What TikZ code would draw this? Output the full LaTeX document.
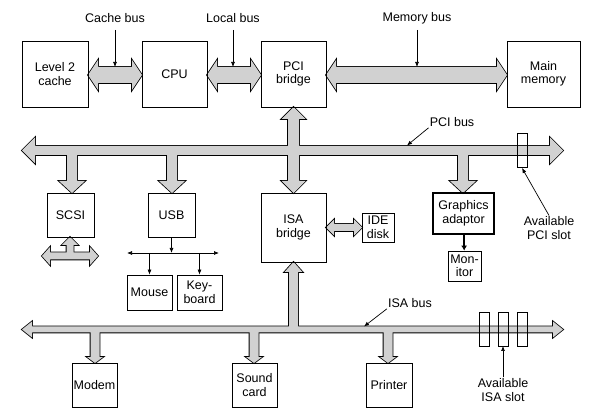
\documentclass[tikz,border=0pt]{standalone}
\usepackage{fontspec}
\setmainfont{Liberation Sans}
\usetikzlibrary{arrows.meta, positioning, calc}

% wide bus arrows, all in pixel units (y runs downwards)
% \hbus{x1}{x2}{y}{shaft}{head}{head length}
\newcommand{\hbus}[6]{%
  (#1,#3) -- ({#1+#6},{#3-#5}) -- ({#1+#6},{#3-#4}) -- ({#2-#6},{#3-#4})
  -- ({#2-#6},{#3-#5}) -- (#2,#3) -- ({#2-#6},{#3+#5}) -- ({#2-#6},{#3+#4})
  -- ({#1+#6},{#3+#4}) -- ({#1+#6},{#3+#5}) -- cycle}
% \vbus{x}{y start}{y tip}{shaft}{head}{signed head length}
\newcommand{\vbus}[6]{%
  ({#1-#4},#2) -- ({#1-#4},{#3-(#6)}) -- ({#1-#5},{#3-(#6)}) -- (#1,#3)
  -- ({#1+#5},{#3-(#6)}) -- ({#1+#4},{#3-(#6)}) -- ({#1+#4},#2) -- cycle}
\newcommand{\allbuses}{%
  \path[bus] \hbus{88}{142}{75}{8}{15}{10};
  \path[bus] \hbus{207}{261}{75}{8}{15}{10};
  \path[bus] \hbus{326}{507}{75}{8}{15}{10};
  \path[bus] \hbus{22}{563}{150.5}{4.5}{13}{13};
  \path[bus] \vbus{293.5}{150}{107}{5.5}{12}{-12};
  \path[bus] \vbus{293.5}{150}{193}{5.5}{12}{12};
  \foreach \x in {72,172,463}
    \path[bus] \vbus{\x}{150}{193}{5}{13}{12};
  \path[bus] \vbus{70}{256}{237}{3.5}{8}{-8};
  \path[bus] \hbus{42}{98}{256}{3.5}{9}{8};
  \path[bus] \hbus{326}{362}{227.5}{3.5}{8}{8};
  \path[bus] \hbus{22}{563}{329.5}{3}{8}{10};
  \path[bus] \vbus{293.5}{329.5}{262}{4.5}{9}{-10};
  \foreach \x in {95,254,388}
    \path[bus] \vbus{\x}{329.5}{363}{4.5}{8}{6};
}

\tikzset{
  box/.style={draw, line width=0.8pt, align=center, inner sep=1pt,
    font=\fontsize{12.5}{13.5}\selectfont},
  lbl/.style={align=center, inner sep=1pt, font=\fontsize{12.5}{13.5}\selectfont},
  ptr/.style={line width=0.7pt, -{Latex[length=5pt,width=4pt]}}
}

\begin{document}
\begin{tikzpicture}[x=1pt, y=-1pt]
    \useasboundingbox (0,0) rectangle (590,417);

    % Buses: outline first, then the fill on top so that joins merge
    \begin{scope}[bus/.style={draw, line width=1.6pt, line join=miter}]
        \allbuses
    \end{scope}
    \begin{scope}[bus/.style={fill=black!18}]
        \allbuses
    \end{scope}

    % Top row
    \node[box, minimum width=66pt, minimum height=66pt] (l2) at (55,74) {Level 2\\cache};
    \node[box, minimum width=65pt, minimum height=66pt] (cpu) at (174.5,74) {CPU};
    \node[box, minimum width=65pt, minimum height=66pt] (pcib) at (293.5,74) {PCI\\bridge};
    \node[box, minimum width=73pt, minimum height=66pt] (mem) at (543.5,74) {Main\\memory};

    % PCI devices
    \node[box, minimum width=47pt, minimum height=44pt] (scsi) at (70.5,215) {SCSI};
    \node[box, minimum width=47pt, minimum height=44pt] (usb) at (171.5,215) {USB};
    \node[box, minimum width=65pt, minimum height=69pt] (isab) at (293.5,227.5) {ISA\\bridge};
    \node[box, minimum width=32pt, minimum height=29pt] (ide) at (378,227.5) {IDE\\disk};
    \node[box, line width=1.6pt, minimum width=61pt, minimum height=41pt] (gfx) at (463.5,213.5) {Graphics\\adaptor};
    \node[box, minimum width=33pt, minimum height=30pt] (mon) at (464.5,266) {Mon-\\itor};
    \node[box, minimum width=45pt, minimum height=35pt] (mouse) at (149.5,292.5) {Mouse};
    \node[box, minimum width=45pt, minimum height=35pt] (kbd) at (199.5,292.5) {Key-\\board};

    % ISA devices
    \node[box, minimum width=45pt, minimum height=44pt] (modem) at (94.5,385) {Modem};
    \node[box, minimum width=45pt, minimum height=44pt] (sound) at (254.5,385) {Sound\\card};
    \node[box, minimum width=46pt, minimum height=44pt] (printer) at (389,385) {Printer};

    % Slots
    \draw[line width=0.8pt] (517,133) rectangle (527,167);
    \foreach \x in {479,498,517}
        \draw[line width=0.8pt] (\x,312) rectangle ++(10,34);

    % Bus labels
    \node[lbl] (cachelbl) at (115,18) {Cache bus};
    \node[lbl] (locallbl) at (233,18) {Local bus};
    \node[lbl] (memlbl) at (417,18) {Memory bus};
    \node[lbl] (pcilbl) at (452,122) {PCI bus};
    \node[lbl] (isalbl) at (410,303) {ISA bus};
    \node[lbl] (pcislotlbl) at (549,228) {Available\\PCI slot};
    \node[lbl] (isaslotlbl) at (503,390) {Available\\ISA slot};

    \coordinate (cachept) at (115,67);
    \coordinate (localpt) at (233,67);
    \coordinate (mempt) at (417,67);
    \coordinate (pcipt) at (407,145.5);
    \coordinate (isapt) at (364,326.5);
    \coordinate (pcislotpt) at (522,168);
    \coordinate (isaslotpt) at (503,346);

    \draw[ptr] (cachelbl.south |- 0,30) -- (cachept);
    \draw[ptr] (locallbl.south |- 0,30) -- (localpt);
    \draw[ptr] (memlbl.south |- 0,30) -- (mempt);
    \draw[ptr] (pcilbl.south west) -- (pcipt);
    \draw[ptr] (isalbl.south west) -- (isapt);
    \draw[ptr] (pcislotlbl.north) -- (pcislotpt);
    \draw[ptr] (isaslotlbl.north) -- (isaslotpt);

    % USB tree
    \coordinate (usbl) at (127,253);
    \coordinate (usbr) at (219,253);
    \draw[ptr] (usb) -- (usb |- usbl);
    \draw[line width=0.7pt, {Latex[length=5pt,width=4pt]}-{Latex[length=5pt,width=4pt]}] (usbl) -- (usbr);
    \draw[ptr] (mouse |- usbl) -- (mouse);
    \draw[ptr] (kbd |- usbl) -- (kbd);

    % Graphics to monitor
    \draw[line width=1.8pt, -{Latex[length=5pt,width=6pt]}] (gfx) -- (mon);
\end{tikzpicture}
\end{document}
